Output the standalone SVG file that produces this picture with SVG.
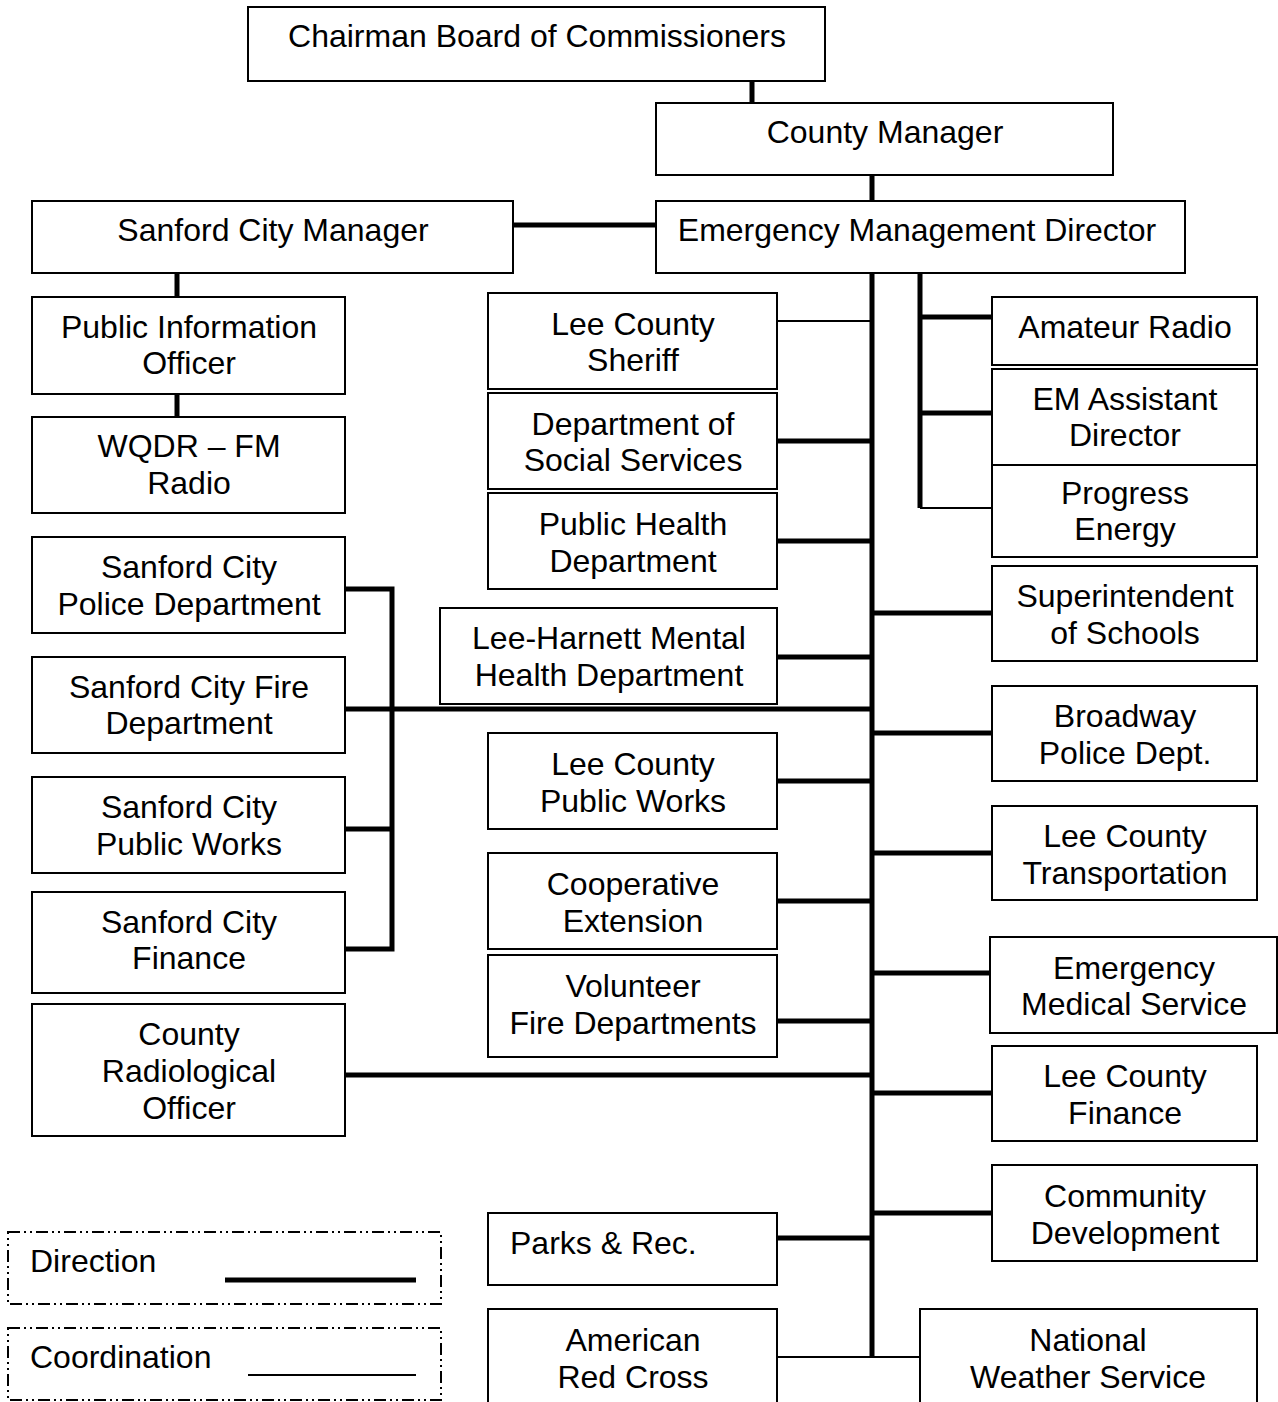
<svg xmlns="http://www.w3.org/2000/svg" width="1278" height="1402" viewBox="0 0 1278 1402">
<style>
.b{fill:#fff;stroke:#000;stroke-width:2}
.t{font-family:"Liberation Sans",Arial,sans-serif;font-size:32px;fill:#000;text-anchor:middle}
.l{text-anchor:start}
.k{stroke:#000;stroke-width:5;fill:none}
.n{stroke:#000;stroke-width:2;fill:none}
.lg{fill:none;stroke:#000;stroke-width:2;stroke-dasharray:12 4 2 4 2 4}
</style>
<rect width="1278" height="1402" fill="#fff"/>
<g id="connectors">
<path class="k" d="M752 81V103M872 175V201M513 225H656M177 273V297M177 394V417"/>
<path class="k" d="M872 273V1357M920 273V508M920 317H992M920 413H992"/>
<path class="n" d="M920 508H992M777 321H872M777 1357H920"/>
<path class="k" d="M777 441H872M777 541H872M777 657H872M777 781H872M777 901H872M777 1021H872M777 1238H872"/>
<path class="k" d="M872 613H992M872 733H992M872 853H992M872 973H992M872 1093H992M872 1213H992"/>
<path class="k" d="M345 589H392V949H345M345 829H392M345 709H872M345 1075H872"/>
</g>
<g id="chairman"><rect class="b" x="248" y="7" width="577" height="74"/><text class="t" x="537" y="47">Chairman Board of Commissioners</text></g>
<g id="county-manager"><rect class="b" x="656" y="103" width="457" height="72"/><text class="t" x="885" y="143">County Manager</text></g>
<g id="sanford-city-manager"><rect class="b" x="32" y="201" width="481" height="72"/><text class="t" x="273" y="241">Sanford City Manager</text></g>
<g id="em-director"><rect class="b" x="656" y="201" width="529" height="72"/><text class="t" x="917" y="241">Emergency Management Director</text></g>
<g id="pio"><rect class="b" x="32" y="297" width="313" height="97"/><text class="t" x="189" y="338">Public Information</text><text class="t" x="189" y="374">Officer</text></g>
<g id="wqdr"><rect class="b" x="32" y="417" width="313" height="96"/><text class="t" x="189" y="457">WQDR – FM</text><text class="t" x="189" y="494">Radio</text></g>
<g id="sc-police"><rect class="b" x="32" y="537" width="313" height="96"/><text class="t" x="189" y="578">Sanford City</text><text class="t" x="189" y="615">Police Department</text></g>
<g id="sc-fire"><rect class="b" x="32" y="657" width="313" height="96"/><text class="t" x="189" y="698">Sanford City Fire</text><text class="t" x="189" y="734">Department</text></g>
<g id="sc-public-works"><rect class="b" x="32" y="777" width="313" height="96"/><text class="t" x="189" y="818">Sanford City</text><text class="t" x="189" y="855">Public Works</text></g>
<g id="sc-finance"><rect class="b" x="32" y="892" width="313" height="101"/><text class="t" x="189" y="933">Sanford City</text><text class="t" x="189" y="969">Finance</text></g>
<g id="radiological"><rect class="b" x="32" y="1004" width="313" height="132"/><text class="t" x="189" y="1045">County</text><text class="t" x="189" y="1082">Radiological</text><text class="t" x="189" y="1119">Officer</text></g>
<g id="sheriff"><rect class="b" x="488" y="293" width="289" height="96"/><text class="t" x="633" y="335">Lee County</text><text class="t" x="633" y="371">Sheriff</text></g>
<g id="social-services"><rect class="b" x="488" y="393" width="289" height="96"/><text class="t" x="633" y="435">Department of</text><text class="t" x="633" y="471">Social Services</text></g>
<g id="public-health"><rect class="b" x="488" y="493" width="289" height="96"/><text class="t" x="633" y="535">Public Health</text><text class="t" x="633" y="572">Department</text></g>
<g id="mental-health"><rect class="b" x="440" y="608" width="337" height="96"/><text class="t" x="609" y="649">Lee-Harnett Mental</text><text class="t" x="609" y="686">Health Department</text></g>
<g id="lc-public-works"><rect class="b" x="488" y="733" width="289" height="96"/><text class="t" x="633" y="775">Lee County</text><text class="t" x="633" y="812">Public Works</text></g>
<g id="coop-extension"><rect class="b" x="488" y="853" width="289" height="96"/><text class="t" x="633" y="895">Cooperative</text><text class="t" x="633" y="932">Extension</text></g>
<g id="volunteer-fire"><rect class="b" x="488" y="955" width="289" height="102"/><text class="t" x="633" y="997">Volunteer</text><text class="t" x="633" y="1034">Fire Departments</text></g>
<g id="parks"><rect class="b" x="488" y="1213" width="289" height="72"/><text class="t l" x="510" y="1254">Parks &amp; Rec.</text></g>
<g id="red-cross"><rect class="b" x="488" y="1309" width="289" height="100"/><text class="t" x="633" y="1351">American</text><text class="t" x="633" y="1388">Red Cross</text></g>
<g id="amateur-radio"><rect class="b" x="992" y="297" width="265" height="68"/><text class="t" x="1125" y="338">Amateur Radio</text></g>
<g id="em-assistant"><rect class="b" x="992" y="369" width="265" height="96"/><text class="t" x="1125" y="410">EM Assistant</text><text class="t" x="1125" y="446">Director</text></g>
<g id="progress-energy"><rect class="b" x="992" y="465" width="265" height="92"/><text class="t" x="1125" y="504">Progress</text><text class="t" x="1125" y="540">Energy</text></g>
<g id="superintendent"><rect class="b" x="992" y="566" width="265" height="95"/><text class="t" x="1125" y="607">Superintendent</text><text class="t" x="1125" y="644">of Schools</text></g>
<g id="broadway-police"><rect class="b" x="992" y="686" width="265" height="95"/><text class="t" x="1125" y="727">Broadway</text><text class="t" x="1125" y="764">Police Dept.</text></g>
<g id="lc-transportation"><rect class="b" x="992" y="806" width="265" height="94"/><text class="t" x="1125" y="847">Lee County</text><text class="t" x="1125" y="884">Transportation</text></g>
<g id="ems"><rect class="b" x="990" y="937" width="287" height="96"/><text class="t" x="1134" y="979">Emergency</text><text class="t" x="1134" y="1015">Medical Service</text></g>
<g id="lc-finance"><rect class="b" x="992" y="1046" width="265" height="95"/><text class="t" x="1125" y="1087">Lee County</text><text class="t" x="1125" y="1124">Finance</text></g>
<g id="community-dev"><rect class="b" x="992" y="1165" width="265" height="96"/><text class="t" x="1125" y="1207">Community</text><text class="t" x="1125" y="1244">Development</text></g>
<g id="nws"><rect class="b" x="920" y="1309" width="337" height="100"/><text class="t" x="1088" y="1351">National</text><text class="t" x="1088" y="1388">Weather Service</text></g>
<g id="legend">
<rect class="lg" x="8" y="1232" width="433" height="72"/>
<text class="t l" x="30" y="1272">Direction</text>
<line class="k" x1="225" y1="1280" x2="416" y2="1280"/>
<rect class="lg" x="8" y="1328" width="433" height="72"/>
<text class="t l" x="30" y="1368">Coordination</text>
<line class="n" x1="248" y1="1375" x2="416" y2="1375"/>
</g>
</svg>
